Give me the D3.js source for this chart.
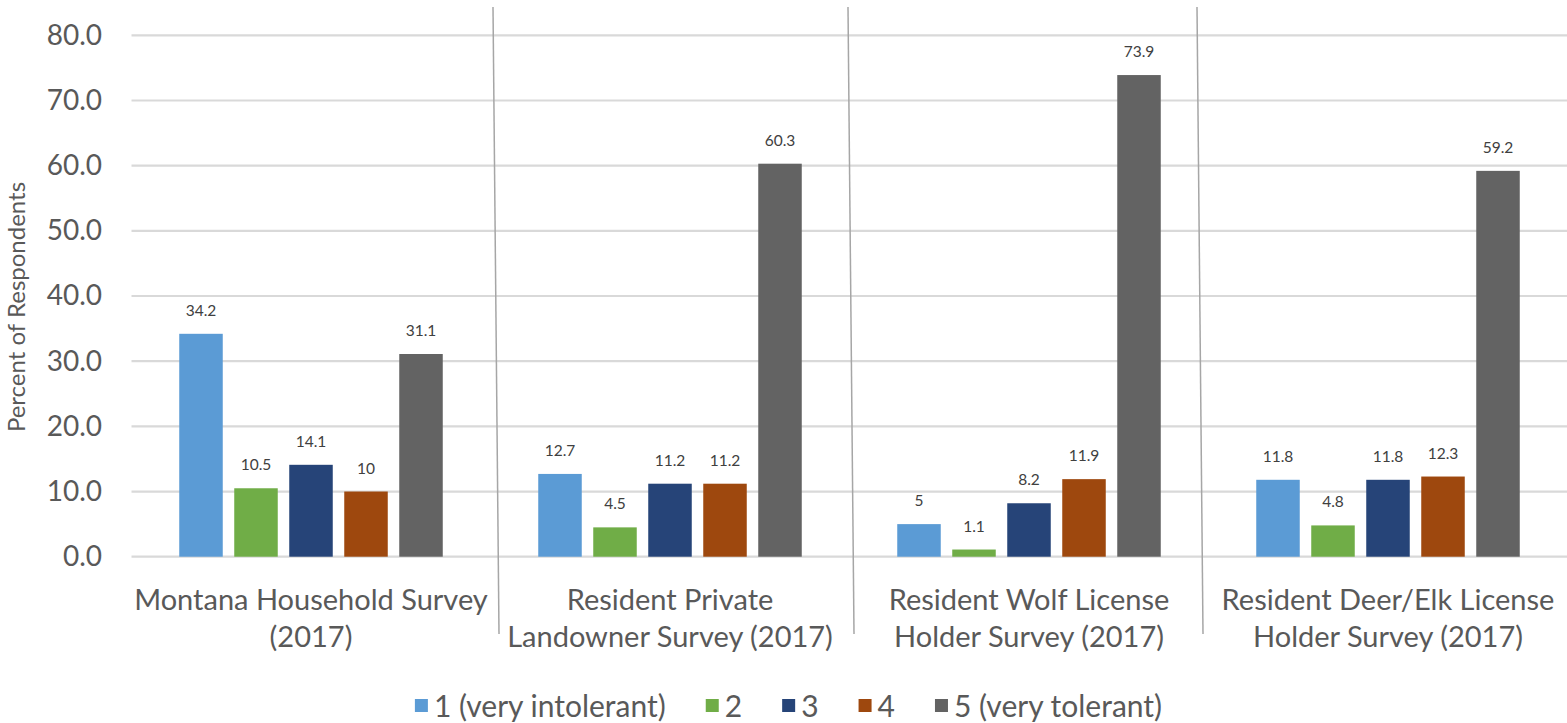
<!DOCTYPE html>
<html><head><meta charset="utf-8">
<script src="https://cdn.jsdelivr.net/npm/d3@7"></script>
<style>
html,body{margin:0;padding:0;background:#fff;}
svg{display:block;font-family:Lato,"Open Sans",sans-serif;}
</style></head>
<body><svg id="chart" width="1567" height="723"></svg>
<script>
// ---- data ----
const groups = ["Montana Household Survey (2017)", "Resident Private Landowner Survey (2017)", "Resident Wolf License Holder Survey (2017)", "Resident Deer/Elk License Holder Survey (2017)"];
const groupLines = [["Montana Household Survey", "(2017)"], ["Resident Private", "Landowner Survey (2017)"], ["Resident Wolf License", "Holder Survey (2017)"], ["Resident Deer/Elk License", "Holder Survey (2017)"]];
const seriesNames = ["1 (very intolerant)", "2", "3", "4", "5 (very tolerant)"];
const s1 = [34.2, 12.7, 5, 11.8];
const s2 = [10.5, 4.5, 1.1, 4.8];
const s3 = [14.1, 11.2, 8.2, 11.8];
const s4 = [10, 11.2, 11.9, 12.3];
const s5 = [31.1, 60.3, 73.9, 59.2];
const seriesValues = [s1, s2, s3, s4, s5];
const seriesLabels = [["34.2","12.7","5","11.8"],["10.5","4.5","1.1","4.8"],["14.1","11.2","8.2","11.8"],["10","11.2","11.9","12.3"],["31.1","60.3","73.9","59.2"]];
const yTicks = [0, 10, 20, 30, 40, 50, 60, 70, 80];
const colors = ["#5b9bd5", "#70ad47", "#264478", "#9e480e", "#636363"];
const yTitle = "Percent of Respondents";

// ---- layout ----
const svg = d3.select("#chart");
const plot = {left: 131.5, right: 1567.5, top: 35.3, bottom: 556.7};

const x0 = d3.scaleBand().domain(groups).range([plot.left, plot.right]).paddingInner(0).paddingOuter(0);
const x1 = d3.scaleBand().domain(seriesNames).range([0, x0.bandwidth()]).paddingInner(0.209).paddingOuter(0.868);
const y = d3.scaleLinear().domain([0, 80]).range([plot.bottom, plot.top]);

// gridlines
svg.append("g").selectAll("line").data(yTicks).join("line")
  .attr("x1", plot.left).attr("x2", 1567)
  .attr("y1", d => y(d)).attr("y2", d => y(d))
  .attr("stroke", "#d9d9d9").attr("stroke-width", 2.2);

// y axis labels
const yAxis = d3.axisLeft(y).tickValues(yTicks).tickFormat(d3.format(".1f")).tickSize(0).tickPadding(0);
const ya = svg.append("g").attr("transform", "translate(102,0)").call(yAxis);
ya.select(".domain").remove();
ya.selectAll("text").attr("font-size", 28).attr("fill", "#595959").attr("font-family", "Lato");

// separators (decorative lines drawn in original)
const sepTop = [493, 848, 1197];
const sepBot = [499, 854, 1203];
svg.append("g").selectAll("line").data(sepTop).join("line")
  .attr("x1", d => d).attr("x2", (d, i) => sepBot[i])
  .attr("y1", 7).attr("y2", 634)
  .attr("stroke", "#a6a6a6").attr("stroke-width", 1.5);

// bars
const gs = svg.append("g").selectAll("g").data(seriesNames).join("g")
  .attr("fill", (d, i) => colors[i]);
gs.each(function(name, si) {
  const g = d3.select(this);
  const data = groups.map((grp, gi) => ({grp, v: seriesValues[si][gi], lab: seriesLabels[si][gi]}));
  g.selectAll("rect").data(data).join("rect")
    .attr("x", d => x0(d.grp) + x1(name))
    .attr("width", x1.bandwidth())
    .attr("y", d => y(d.v))
    .attr("height", d => y(0) - y(d.v));
  g.selectAll("text").data(data).join("text")
    .attr("x", d => x0(d.grp) + x1(name) + x1.bandwidth() / 2)
    .attr("y", d => y(d.v) - 18)
    .attr("text-anchor", "middle")
    .attr("font-size", 15.5)
    .attr("fill", "#404040")
    .text(d => d.lab);
});

// category labels
const cl = svg.append("g").selectAll("text").data(groups).join("text")
  .attr("text-anchor", "middle")
  .attr("font-size", 29)
  .attr("fill", "#595959");
cl.each(function(grp, gi) {
  const t = d3.select(this);
  groupLines[gi].forEach((ln, li) => {
    t.append("tspan").attr("x", x0(grp) + x0.bandwidth() / 2).attr("y", 610 + li * 36.5).text(ln);
  });
});

// y title
svg.append("text")
  .attr("transform", "translate(25,307) rotate(-90)")
  .attr("text-anchor", "middle")
  .attr("font-size", 24)
  .attr("fill", "#595959")
  .text(yTitle);

// legend
const legend = svg.append("g");
const items = legend.selectAll("g").data(seriesNames).join("g");
items.append("rect").attr("width", 13).attr("height", 13).attr("y", 699).attr("fill", (d, i) => colors[i]);
items.append("text").attr("x", 19).attr("y", 717).attr("font-size", 30).attr("fill", "#595959").text(d => d);
let cx = 0;
const gap = 40;
items.each(function() {
  const w = this.querySelector("text").getComputedTextLength();
  d3.select(this).attr("data-x", cx);
  cx += 19 + w + gap;
});
const total = cx - gap;
const startX = 788.5 - total / 2;
items.attr("transform", function() { return `translate(${startX + (+this.getAttribute("data-x"))},0)`; });
</script>
</body></html>
